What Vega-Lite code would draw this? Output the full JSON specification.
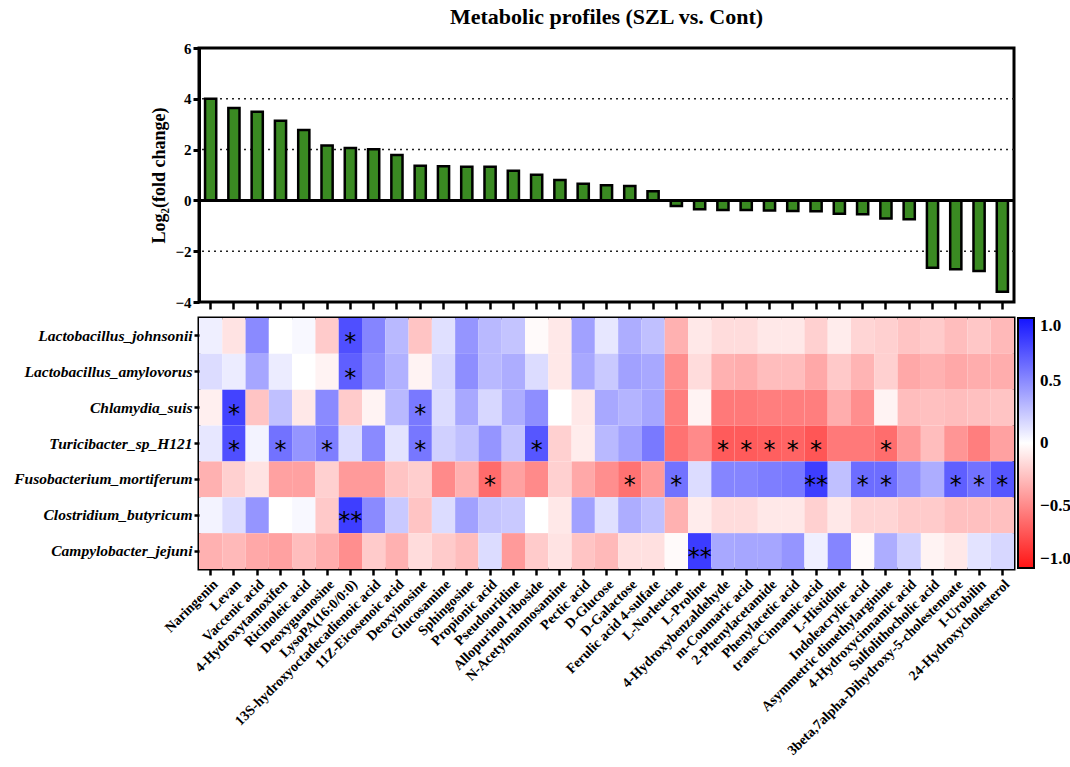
{
  "$schema": "https://vega.github.io/schema/vega-lite/v6.json",
  "background": "white",
  "padding": {"left": 12, "top": 4, "right": 0, "bottom": 0},
  "spacing": 4,
  "resolve": {"scale": {"color": "independent"}, "legend": {"color": "independent"}},
  "config": {
    "font": "Liberation Serif",
    "view": {"stroke": "black", "strokeWidth": 3},
    "axis": {
      "labelFont": "Liberation Serif",
      "titleFont": "Liberation Serif",
      "labelFontWeight": "bold",
      "titleFontWeight": "bold",
      "labelColor": "black",
      "titleColor": "black",
      "tickColor": "black",
      "domainColor": "black",
      "grid": false
    }
  },
  "datasets": {
    "bars": [
      {"m": "Naringenin", "fc": 4.0},
      {"m": "Levan", "fc": 3.64},
      {"m": "Vaccenic acid", "fc": 3.49},
      {"m": "4-Hydroxytamoxifen", "fc": 3.14},
      {"m": "Ricinoleic acid", "fc": 2.77},
      {"m": "Deoxyguanosine", "fc": 2.16},
      {"m": "LysoPA(16:0/0:0)", "fc": 2.06},
      {"m": "13S-hydroxyoctadecadienoic acid", "fc": 2.01},
      {"m": "11Z-Eicosenoic acid", "fc": 1.79},
      {"m": "Deoxyinosine", "fc": 1.36},
      {"m": "Glucosamine", "fc": 1.34},
      {"m": "Sphingosine", "fc": 1.32},
      {"m": "Propionic acid", "fc": 1.32},
      {"m": "Pseudouridine", "fc": 1.17},
      {"m": "Allopurinol riboside", "fc": 1.01},
      {"m": "N-Acetylmannosamine", "fc": 0.8},
      {"m": "Pectic acid", "fc": 0.66},
      {"m": "D-Glucose", "fc": 0.6},
      {"m": "D-Galactose", "fc": 0.57},
      {"m": "Ferulic acid 4-sulfate", "fc": 0.36},
      {"m": "L-Norleucine", "fc": -0.22},
      {"m": "L-Proline", "fc": -0.35},
      {"m": "4-Hydroxybenzaldehyde", "fc": -0.38},
      {"m": "m-Coumaric acid", "fc": -0.38},
      {"m": "2-Phenylacetamide", "fc": -0.4},
      {"m": "Phenylacetic acid", "fc": -0.42},
      {"m": "trans-Cinnamic acid", "fc": -0.43},
      {"m": "L-Histidine", "fc": -0.53},
      {"m": "Indoleacrylic acid", "fc": -0.55},
      {"m": "Asymmetric dimethylarginine", "fc": -0.71},
      {"m": "4-Hydroxycinnamic acid", "fc": -0.74},
      {"m": "Sulfolithocholic acid", "fc": -2.65},
      {"m": "3beta,7alpha-Dihydroxy-5-cholestenoate", "fc": -2.71},
      {"m": "I-Urobilin", "fc": -2.78},
      {"m": "24-Hydroxycholesterol", "fc": -3.6}
    ],
    "heat": [
      {"m": "Naringenin", "Lactobacillus_johnsonii": 0.07, "Lactobacillus_amylovorus": 0.15, "Chlamydia_suis": -0.07, "Turicibacter_sp_H121": 0.1, "Fusobacterium_mortiferum": -0.33, "Clostridium_butyricum": 0.05, "Campylobacter_jejuni": -0.33},
      {"m": "Levan", "Lactobacillus_johnsonii": -0.12, "Lactobacillus_amylovorus": 0.08, "Chlamydia_suis": 0.8, "Turicibacter_sp_H121": 0.75, "Fusobacterium_mortiferum": -0.2, "Clostridium_butyricum": 0.15, "Campylobacter_jejuni": -0.3},
      {"m": "Vaccenic acid", "Lactobacillus_johnsonii": 0.5, "Lactobacillus_amylovorus": 0.38, "Chlamydia_suis": -0.25, "Turicibacter_sp_H121": 0.05, "Fusobacterium_mortiferum": -0.12, "Clostridium_butyricum": 0.45, "Campylobacter_jejuni": -0.37},
      {"m": "4-Hydroxytamoxifen", "Lactobacillus_johnsonii": 0.0, "Lactobacillus_amylovorus": 0.08, "Chlamydia_suis": 0.27, "Turicibacter_sp_H121": 0.6, "Fusobacterium_mortiferum": -0.4, "Clostridium_butyricum": 0.0, "Campylobacter_jejuni": -0.4},
      {"m": "Ricinoleic acid", "Lactobacillus_johnsonii": 0.03, "Lactobacillus_amylovorus": 0.0, "Chlamydia_suis": -0.1, "Turicibacter_sp_H121": 0.45, "Fusobacterium_mortiferum": -0.4, "Clostridium_butyricum": 0.03, "Campylobacter_jejuni": -0.28},
      {"m": "Deoxyguanosine", "Lactobacillus_johnsonii": -0.22, "Lactobacillus_amylovorus": -0.05, "Chlamydia_suis": 0.5, "Turicibacter_sp_H121": 0.55, "Fusobacterium_mortiferum": -0.2, "Clostridium_butyricum": -0.23, "Campylobacter_jejuni": -0.35},
      {"m": "LysoPA(16:0/0:0)", "Lactobacillus_johnsonii": 0.75, "Lactobacillus_amylovorus": 0.68, "Chlamydia_suis": -0.22, "Turicibacter_sp_H121": 0.15, "Fusobacterium_mortiferum": -0.43, "Clostridium_butyricum": 0.82, "Campylobacter_jejuni": -0.48},
      {"m": "13S-hydroxyoctadecadienoic acid", "Lactobacillus_johnsonii": 0.52, "Lactobacillus_amylovorus": 0.48, "Chlamydia_suis": -0.05, "Turicibacter_sp_H121": 0.5, "Fusobacterium_mortiferum": -0.43, "Clostridium_butyricum": 0.5, "Campylobacter_jejuni": -0.22},
      {"m": "11Z-Eicosenoic acid", "Lactobacillus_johnsonii": 0.3, "Lactobacillus_amylovorus": 0.33, "Chlamydia_suis": 0.3, "Turicibacter_sp_H121": 0.12, "Fusobacterium_mortiferum": -0.25, "Clostridium_butyricum": 0.23, "Campylobacter_jejuni": -0.33},
      {"m": "Deoxyinosine", "Lactobacillus_johnsonii": -0.25, "Lactobacillus_amylovorus": -0.05, "Chlamydia_suis": 0.57, "Turicibacter_sp_H121": 0.58, "Fusobacterium_mortiferum": -0.21, "Clostridium_butyricum": -0.25, "Campylobacter_jejuni": -0.15},
      {"m": "Glucosamine", "Lactobacillus_johnsonii": 0.13, "Lactobacillus_amylovorus": 0.17, "Chlamydia_suis": 0.15, "Turicibacter_sp_H121": 0.2, "Fusobacterium_mortiferum": -0.5, "Clostridium_butyricum": 0.15, "Campylobacter_jejuni": -0.22},
      {"m": "Sphingosine", "Lactobacillus_johnsonii": 0.45, "Lactobacillus_amylovorus": 0.48, "Chlamydia_suis": 0.37, "Turicibacter_sp_H121": 0.27, "Fusobacterium_mortiferum": -0.33, "Clostridium_butyricum": 0.4, "Campylobacter_jejuni": -0.28},
      {"m": "Propionic acid", "Lactobacillus_johnsonii": 0.3, "Lactobacillus_amylovorus": 0.3, "Chlamydia_suis": 0.17, "Turicibacter_sp_H121": 0.45, "Fusobacterium_mortiferum": -0.63, "Clostridium_butyricum": 0.25, "Campylobacter_jejuni": 0.15},
      {"m": "Pseudouridine", "Lactobacillus_johnsonii": 0.25, "Lactobacillus_amylovorus": 0.35, "Chlamydia_suis": 0.35, "Turicibacter_sp_H121": 0.25, "Fusobacterium_mortiferum": -0.4, "Clostridium_butyricum": 0.23, "Campylobacter_jejuni": -0.43},
      {"m": "Allopurinol riboside", "Lactobacillus_johnsonii": -0.02, "Lactobacillus_amylovorus": 0.15, "Chlamydia_suis": 0.48, "Turicibacter_sp_H121": 0.72, "Fusobacterium_mortiferum": -0.5, "Clostridium_butyricum": 0.0, "Campylobacter_jejuni": -0.22},
      {"m": "N-Acetylmannosamine", "Lactobacillus_johnsonii": -0.1, "Lactobacillus_amylovorus": -0.1, "Chlamydia_suis": 0.0, "Turicibacter_sp_H121": -0.2, "Fusobacterium_mortiferum": -0.2, "Clostridium_butyricum": -0.1, "Campylobacter_jejuni": -0.12},
      {"m": "Pectic acid", "Lactobacillus_johnsonii": 0.4, "Lactobacillus_amylovorus": 0.37, "Chlamydia_suis": -0.1, "Turicibacter_sp_H121": -0.08, "Fusobacterium_mortiferum": -0.37, "Clostridium_butyricum": 0.4, "Campylobacter_jejuni": -0.25},
      {"m": "D-Glucose", "Lactobacillus_johnsonii": 0.1, "Lactobacillus_amylovorus": 0.23, "Chlamydia_suis": 0.37, "Turicibacter_sp_H121": 0.3, "Fusobacterium_mortiferum": -0.48, "Clostridium_butyricum": 0.13, "Campylobacter_jejuni": -0.3},
      {"m": "D-Galactose", "Lactobacillus_johnsonii": 0.35, "Lactobacillus_amylovorus": 0.4, "Chlamydia_suis": 0.32, "Turicibacter_sp_H121": 0.4, "Fusobacterium_mortiferum": -0.6, "Clostridium_butyricum": 0.35, "Campylobacter_jejuni": -0.13},
      {"m": "Ferulic acid 4-sulfate", "Lactobacillus_johnsonii": 0.27, "Lactobacillus_amylovorus": 0.37, "Chlamydia_suis": 0.38, "Turicibacter_sp_H121": 0.57, "Fusobacterium_mortiferum": -0.43, "Clostridium_butyricum": 0.27, "Campylobacter_jejuni": -0.13},
      {"m": "L-Norleucine", "Lactobacillus_johnsonii": -0.33, "Lactobacillus_amylovorus": -0.48, "Chlamydia_suis": -0.55, "Turicibacter_sp_H121": -0.6, "Fusobacterium_mortiferum": 0.6, "Clostridium_butyricum": -0.33, "Campylobacter_jejuni": -0.02},
      {"m": "L-Proline", "Lactobacillus_johnsonii": -0.1, "Lactobacillus_amylovorus": -0.15, "Chlamydia_suis": -0.05, "Turicibacter_sp_H121": -0.5, "Fusobacterium_mortiferum": 0.15, "Clostridium_butyricum": -0.08, "Campylobacter_jejuni": 0.83},
      {"m": "4-Hydroxybenzaldehyde", "Lactobacillus_johnsonii": -0.15, "Lactobacillus_amylovorus": -0.33, "Chlamydia_suis": -0.57, "Turicibacter_sp_H121": -0.7, "Fusobacterium_mortiferum": 0.52, "Clostridium_butyricum": -0.15, "Campylobacter_jejuni": 0.37},
      {"m": "m-Coumaric acid", "Lactobacillus_johnsonii": -0.15, "Lactobacillus_amylovorus": -0.35, "Chlamydia_suis": -0.57, "Turicibacter_sp_H121": -0.7, "Fusobacterium_mortiferum": 0.52, "Clostridium_butyricum": -0.15, "Campylobacter_jejuni": 0.38},
      {"m": "2-Phenylacetamide", "Lactobacillus_johnsonii": -0.1, "Lactobacillus_amylovorus": -0.28, "Chlamydia_suis": -0.55, "Turicibacter_sp_H121": -0.68, "Fusobacterium_mortiferum": 0.55, "Clostridium_butyricum": -0.1, "Campylobacter_jejuni": 0.38},
      {"m": "Phenylacetic acid", "Lactobacillus_johnsonii": -0.1, "Lactobacillus_amylovorus": -0.28, "Chlamydia_suis": -0.55, "Turicibacter_sp_H121": -0.66, "Fusobacterium_mortiferum": 0.57, "Clostridium_butyricum": -0.1, "Campylobacter_jejuni": 0.45},
      {"m": "trans-Cinnamic acid", "Lactobacillus_johnsonii": -0.2, "Lactobacillus_amylovorus": -0.37, "Chlamydia_suis": -0.55, "Turicibacter_sp_H121": -0.72, "Fusobacterium_mortiferum": 0.82, "Clostridium_butyricum": -0.2, "Campylobacter_jejuni": 0.07},
      {"m": "L-Histidine", "Lactobacillus_johnsonii": -0.08, "Lactobacillus_amylovorus": -0.23, "Chlamydia_suis": -0.35, "Turicibacter_sp_H121": -0.57, "Fusobacterium_mortiferum": 0.27, "Clostridium_butyricum": -0.1, "Campylobacter_jejuni": 0.52},
      {"m": "Indoleacrylic acid", "Lactobacillus_johnsonii": -0.18, "Lactobacillus_amylovorus": -0.32, "Chlamydia_suis": -0.48, "Turicibacter_sp_H121": -0.57, "Fusobacterium_mortiferum": 0.62, "Clostridium_butyricum": -0.18, "Campylobacter_jejuni": -0.02},
      {"m": "Asymmetric dimethylarginine", "Lactobacillus_johnsonii": -0.2, "Lactobacillus_amylovorus": -0.2, "Chlamydia_suis": -0.05, "Turicibacter_sp_H121": -0.62, "Fusobacterium_mortiferum": 0.62, "Clostridium_butyricum": -0.18, "Campylobacter_jejuni": 0.35},
      {"m": "4-Hydroxycinnamic acid", "Lactobacillus_johnsonii": -0.25, "Lactobacillus_amylovorus": -0.37, "Chlamydia_suis": -0.28, "Turicibacter_sp_H121": -0.43, "Fusobacterium_mortiferum": 0.47, "Clostridium_butyricum": -0.22, "Campylobacter_jejuni": 0.2},
      {"m": "Sulfolithocholic acid", "Lactobacillus_johnsonii": -0.22, "Lactobacillus_amylovorus": -0.33, "Chlamydia_suis": -0.27, "Turicibacter_sp_H121": -0.28, "Fusobacterium_mortiferum": 0.35, "Clostridium_butyricum": -0.22, "Campylobacter_jejuni": -0.05},
      {"m": "3beta,7alpha-Dihydroxy-5-cholestenoate", "Lactobacillus_johnsonii": -0.28, "Lactobacillus_amylovorus": -0.37, "Chlamydia_suis": -0.28, "Turicibacter_sp_H121": -0.45, "Fusobacterium_mortiferum": 0.68, "Clostridium_butyricum": -0.27, "Campylobacter_jejuni": -0.1},
      {"m": "I-Urobilin", "Lactobacillus_johnsonii": -0.24, "Lactobacillus_amylovorus": -0.35, "Chlamydia_suis": -0.27, "Turicibacter_sp_H121": -0.55, "Fusobacterium_mortiferum": 0.6, "Clostridium_butyricum": -0.27, "Campylobacter_jejuni": 0.12},
      {"m": "24-Hydroxycholesterol", "Lactobacillus_johnsonii": -0.3, "Lactobacillus_amylovorus": -0.35, "Chlamydia_suis": -0.25, "Turicibacter_sp_H121": -0.4, "Fusobacterium_mortiferum": 0.72, "Clostridium_butyricum": -0.27, "Campylobacter_jejuni": 0.17}
    ],
    "stars": [
      {"m": "LysoPA(16:0/0:0)", "b": "Lactobacillus_johnsonii", "s": "*"},
      {"m": "LysoPA(16:0/0:0)", "b": "Lactobacillus_amylovorus", "s": "*"},
      {"m": "Levan", "b": "Chlamydia_suis", "s": "*"},
      {"m": "Deoxyinosine", "b": "Chlamydia_suis", "s": "*"},
      {"m": "Levan", "b": "Turicibacter_sp_H121", "s": "*"},
      {"m": "4-Hydroxytamoxifen", "b": "Turicibacter_sp_H121", "s": "*"},
      {"m": "Deoxyguanosine", "b": "Turicibacter_sp_H121", "s": "*"},
      {"m": "Deoxyinosine", "b": "Turicibacter_sp_H121", "s": "*"},
      {"m": "Allopurinol riboside", "b": "Turicibacter_sp_H121", "s": "*"},
      {"m": "4-Hydroxybenzaldehyde", "b": "Turicibacter_sp_H121", "s": "*"},
      {"m": "m-Coumaric acid", "b": "Turicibacter_sp_H121", "s": "*"},
      {"m": "2-Phenylacetamide", "b": "Turicibacter_sp_H121", "s": "*"},
      {"m": "Phenylacetic acid", "b": "Turicibacter_sp_H121", "s": "*"},
      {"m": "trans-Cinnamic acid", "b": "Turicibacter_sp_H121", "s": "*"},
      {"m": "Asymmetric dimethylarginine", "b": "Turicibacter_sp_H121", "s": "*"},
      {"m": "Propionic acid", "b": "Fusobacterium_mortiferum", "s": "*"},
      {"m": "D-Galactose", "b": "Fusobacterium_mortiferum", "s": "*"},
      {"m": "L-Norleucine", "b": "Fusobacterium_mortiferum", "s": "*"},
      {"m": "trans-Cinnamic acid", "b": "Fusobacterium_mortiferum", "s": "**"},
      {"m": "Indoleacrylic acid", "b": "Fusobacterium_mortiferum", "s": "*"},
      {"m": "Asymmetric dimethylarginine", "b": "Fusobacterium_mortiferum", "s": "*"},
      {"m": "3beta,7alpha-Dihydroxy-5-cholestenoate", "b": "Fusobacterium_mortiferum", "s": "*"},
      {"m": "I-Urobilin", "b": "Fusobacterium_mortiferum", "s": "*"},
      {"m": "24-Hydroxycholesterol", "b": "Fusobacterium_mortiferum", "s": "*"},
      {"m": "LysoPA(16:0/0:0)", "b": "Clostridium_butyricum", "s": "**"},
      {"m": "L-Proline", "b": "Campylobacter_jejuni", "s": "**"}
    ]
  },
  "vconcat": [
    {
      "width": 815,
      "height": 254,
      "title": {
        "text": "Metabolic profiles (SZL vs. Cont)",
        "font": "Liberation Serif",
        "fontSize": 22,
        "fontWeight": "bold",
        "color": "black",
        "anchor": "middle",
        "frame": "group",
        "offset": 12
      },
      "layer": [
        {
          "data": {"values": [{"g": 4}, {"g": 2}, {"g": -2}]},
          "mark": {"type": "rule", "strokeDash": [2, 4], "strokeWidth": 1.5, "color": "#222222"},
          "encoding": {"y": {"field": "g", "type": "quantitative"}}
        },
        {
          "data": {"name": "bars"},
          "mark": {"type": "bar", "fill": "#3a8a22", "stroke": "black", "strokeWidth": 2.5},
          "encoding": {
            "x": {
              "field": "m",
              "type": "nominal",
              "sort": null,
              "scale": {"paddingInner": 0.52},
              "axis": {"title": null, "labels": false, "ticks": true, "tickSize": 7, "tickWidth": 2.5, "domain": false}
            },
            "y": {
              "field": "fc",
              "type": "quantitative",
              "scale": {"domain": [-4, 6], "nice": false},
              "axis": {
                "title": "Log₂(fold change)",
                "titleFontSize": 18,
                "titlePadding": 6,
                "labelFontSize": 15,
                "values": [-4, -2, 0, 2, 4, 6],
                "tickSize": 6,
                "tickWidth": 3,
                "domainWidth": 3,
                "labelPadding": 2
              }
            }
          }
        },
        {
          "data": {"values": [{"z": 0}]},
          "mark": {"type": "rule", "strokeWidth": 3, "color": "black"},
          "encoding": {"y": {"field": "z", "type": "quantitative"}}
        }
      ]
    },
    {
      "width": 815,
      "height": 251,
      "layer": [
        {
          "data": {"name": "heat"},
          "transform": [
            {
              "fold": ["Lactobacillus_johnsonii", "Lactobacillus_amylovorus", "Chlamydia_suis", "Turicibacter_sp_H121", "Fusobacterium_mortiferum", "Clostridium_butyricum", "Campylobacter_jejuni"],
              "as": ["b", "r"]
            }
          ],
          "mark": {"type": "rect"},
          "encoding": {
            "x": {
              "field": "m",
              "type": "nominal",
              "sort": null,
              "axis": {
                "title": null,
                "labelAngle": -45,
                "labelFontSize": 14,
                "labelLimit": 0,
                "labelPadding": 2,
                "tickSize": 6,
                "tickWidth": 2.5,
                "domain": false
              }
            },
            "y": {
              "field": "b",
              "type": "nominal",
              "sort": ["Lactobacillus_johnsonii", "Lactobacillus_amylovorus", "Chlamydia_suis", "Turicibacter_sp_H121", "Fusobacterium_mortiferum", "Clostridium_butyricum", "Campylobacter_jejuni"],
              "axis": {
                "title": null,
                "labelFontSize": 15.5,
                "labelFontStyle": "italic",
                "labelLimit": 0,
                "labelPadding": 2,
                "tickSize": 5,
                "tickWidth": 2.5,
                "domain": false
              }
            },
            "color": {
              "field": "r",
              "type": "quantitative",
              "scale": {"domain": [-1, 0, 1], "range": ["#ff1414", "#ffffff", "#1414ff"], "interpolate": "rgb"},
              "legend": {
                "title": null,
                "orient": "right",
                "offset": 4,
                "direction": "vertical",
                "gradientLength": 250,
                "gradientThickness": 16,
                "gradientStrokeColor": "black",
                "gradientStrokeWidth": 2,
                "values": [1, 0.5, 0, -0.5, -1],
                "labelExpr": "datum.value == 0 ? '0' : format(datum.value, '.1f')",
                "labelFont": "Liberation Serif",
                "labelFontWeight": "bold",
                "labelFontSize": 17,
                "labelColor": "black",
                "labelOffset": 6
              }
            }
          }
        },
        {
          "data": {"name": "stars"},
          "mark": {"type": "text", "font": "DejaVu Sans", "fontSize": 24, "color": "black", "dy": 7},
          "encoding": {
            "x": {"field": "m", "type": "nominal", "sort": null},
            "y": {
              "field": "b",
              "type": "nominal",
              "sort": ["Lactobacillus_johnsonii", "Lactobacillus_amylovorus", "Chlamydia_suis", "Turicibacter_sp_H121", "Fusobacterium_mortiferum", "Clostridium_butyricum", "Campylobacter_jejuni"]
            },
            "text": {"field": "s"}
          }
        }
      ]
    }
  ]
}
